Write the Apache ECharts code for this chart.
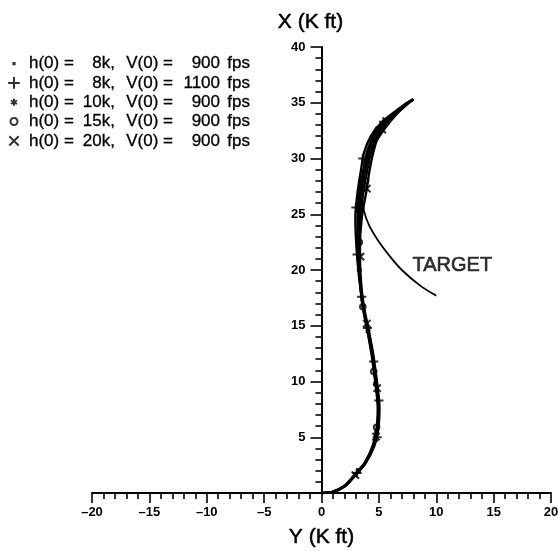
<!DOCTYPE html>
<html>
<head>
<meta charset="utf-8">
<script src="https://cdn.jsdelivr.net/npm/echarts@6/dist/echarts.min.js"></script>
<style>html,body{margin:0;padding:0;background:#fff}#c{width:558px;height:551px}</style>
</head>
<body>
<div id="c"></div>
<script>
// ---- data ----
const seriesNames = ['h(0) =  8k, V(0) =  900 fps','h(0) =  8k, V(0) = 1100 fps','h(0) = 10k, V(0) =  900 fps','h(0) = 15k, V(0) =  900 fps','h(0) = 20k, V(0) =  900 fps'];
const legendH0 = ['8k,','8k,','10k,','15k,','20k,'];
const legendV0 = ['900','1100','900','900','900'];
const xTicks = [-20,-15,-10,-5,0,5,10,15,20];
const yTicks = [5,10,15,20,25,30,35,40];

// trajectory: downrange X (K ft) levels shared by all runs, cross-range Y (K ft) per run
const pathX = [0, 0.1, 0.6, 1.6, 2.7, 4.2, 5.8, 7.6, 9.4, 11, 12.5, 14.6, 17, 19.6, 22, 24.6, 27, 29, 30.5, 32, 33.2, 34.2, 34.85, 35.3];
const pathY1 = [0, 1.0, 2.0, 2.9, 3.8, 4.5, 4.85, 4.95, 4.8, 4.6, 4.4, 4.05, 3.6, 3.3, 3.15, 3.15, 3.3, 3.65, 3.95, 4.5, 5.35, 6.45, 7.3, 8.0];
const pathY2 = [0, 1.0, 2.05, 2.95, 3.85, 4.6, 4.95, 5.05, 4.9, 4.7, 4.5, 4.1, 3.6, 3.25, 3.05, 2.95, 3.15, 3.45, 3.7, 4.3, 5.2, 6.4, 7.25, 8.0];
const pathY3 = [0, 0.95, 1.95, 2.85, 3.75, 4.45, 4.8, 4.9, 4.75, 4.55, 4.35, 4.0, 3.55, 3.3, 3.2, 3.25, 3.45, 3.8, 4.1, 4.6, 5.45, 6.5, 7.3, 8.0];
const pathY4 = [0, 0.95, 1.95, 2.9, 3.8, 4.5, 4.85, 4.95, 4.8, 4.6, 4.4, 4.0, 3.55, 3.35, 3.25, 3.35, 3.65, 4.0, 4.3, 4.8, 5.6, 6.6, 7.35, 8.0];
const pathY5 = [0, 1.0, 2.0, 2.95, 3.85, 4.55, 4.9, 5.0, 4.85, 4.65, 4.45, 4.1, 3.65, 3.4, 3.35, 3.5, 3.9, 4.2, 4.5, 4.95, 5.7, 6.7, 7.45, 8.0];

// marker positions along each run
const mark1X = [2.3, 6.3, 10.6, 15.6, 21.0, 26.5, 31.6];
const mark1Y = [3.45, 4.9, 4.65, 3.85, 3.2, 3.3, 4.45];
const mark2X = [1.8, 5.0, 8.3, 11.8, 14.8, 17.6, 21.4, 25.6, 30.0, 33.3];
const mark2Y = [3.1, 4.85, 5.0, 4.55, 4.0, 3.5, 3.1, 3.0, 3.6, 5.4];
const mark3X = [2.0, 5.5, 9.8, 14.5, 20.0, 25.5, 31.0];
const mark3Y = [3.2, 4.8, 4.7, 4.05, 3.3, 3.3, 4.35];
const mark4X = [5.9, 10.9, 16.7, 22.5, 28.0, 32.6];
const mark4Y = [4.8, 4.55, 3.6, 3.3, 3.85, 4.95];
const mark5X = [1.6, 5.05, 9.4, 15.2, 21.2, 27.3, 32.6];
const mark5Y = [2.95, 4.75, 4.85, 3.95, 3.4, 3.95, 5.3];

// target path
const targetX = [17.7, 18.6, 20.0, 21.3, 22.7, 24.0, 25.3, 26.5, 28.0, 29.5, 31.0, 32.5, 34.0, 35.3];
const targetY = [10.0, 8.6, 7.0, 5.9, 4.9, 4.15, 3.7, 3.55, 3.65, 3.95, 4.5, 5.4, 6.6, 8.0];
const targetLabelPos = [11.4, 20.4];

// ---- chart ----
const FONT = "'Liberation Sans', Arial, Helvetica, sans-serif";
const symbols = [
  'path://M0,0M12,12M4.6,4.6h2.8v2.8h-2.8z',
  'path://M0,0M12,12M1,6H11M6,1V11',
  'path://M0,0M12,12M6,3V9M3.4,4.5L8.6,7.5M8.6,4.5L3.4,7.5',
  'path://M0,0M12,12M9,6A3,3 0 1,1 3,6A3,3 0 1,1 9,6Z',
  'path://M0,0M12,12M2,2L10,10M10,2L2,10'
];
const markStyles = [
  {color:'#000', borderWidth:0},
  {color:'transparent', borderColor:'#000', borderWidth:2},
  {color:'transparent', borderColor:'#000', borderWidth:2},
  {color:'transparent', borderColor:'#000', borderWidth:2},
  {color:'transparent', borderColor:'#000', borderWidth:2}
];
const paths = [pathY1, pathY2, pathY3, pathY4, pathY5];
const marksX = [mark1X, mark2X, mark3X, mark4X, mark5X];
const marksY = [mark1Y, mark2Y, mark3Y, mark4Y, mark5Y];

const series = [];
seriesNames.forEach((n, i) => {
  series.push({
    name: n, type: 'scatter', symbol: symbols[i], symbolSize: 11,
    itemStyle: markStyles[i], z: 5, silent: true,
    data: marksX[i].map((x, k) => [marksY[i][k], x])
  });
});
paths.forEach((p, i) => {
  series.push({
    name: 'run' + (i + 1), type: 'line', smooth: 0.35, symbol: 'none',
    lineStyle: {color: '#000', width: 2.4}, z: 3, silent: true,
    data: pathX.map((x, k) => [p[k], x])
  });
});
series.push({
  name: 'target', type: 'line', smooth: 0.35, symbol: 'none',
  lineStyle: {color: '#000', width: 1.8}, z: 2, silent: true,
  data: targetX.map((x, k) => [targetY[k], x])
});
series.push({
  name: 'targetLabel', type: 'scatter', symbolSize: 0, silent: true,
  label: {show: true, position: 'inside', formatter: 'TARGET', color: '#000',
    fontFamily: FONT, fontSize: 20, textBorderColor: '#000', textBorderWidth: 0.6},
  data: [targetLabelPos]
});

const nameStyle = {color: '#000', fontFamily: FONT, fontSize: 21, textBorderColor: '#000', textBorderWidth: 0.5};
const richBase = {fontFamily: FONT, fontSize: 17, lineHeight: 17, color: '#000', textBorderColor: '#000', textBorderWidth: 0.3};

const chart = echarts.init(document.getElementById('c'), null, {renderer: 'canvas'});
const option = {
  animation: false,
  backgroundColor: '#fff',
  grid: {left: 92, right: 7, top: 47, bottom: 58, containLabel: false, outerBoundsMode: 'none'},
  legend: {
    orient: 'vertical', left: 6, top: 55, padding: 0, itemWidth: 14, itemHeight: 14, itemGap: 2,
    selectedMode: false,
    data: seriesNames.map((n, i) => ({name: n, icon: symbols[i], itemStyle: markStyles[i]})),
    formatter: function (name) {
      const i = seriesNames.indexOf(name);
      return '{a|h(0) =}{b|' + legendH0[i] + '}{c|V(0) =}{d|' + legendV0[i] + '}{e|fps}';
    },
    textStyle: {
      color: '#000', fontFamily: FONT, fontSize: 17, lineHeight: 17,
      rich: {
        a: Object.assign({width: 57, padding: [0,0,0,3]}, richBase),
        b: Object.assign({width: 29, align: 'right'}, richBase),
        c: Object.assign({width: 58, align: 'right'}, richBase),
        d: Object.assign({width: 47, align: 'right'}, richBase),
        e: Object.assign({width: 30, align: 'right'}, richBase)
      }
    }
  },
  xAxis: {
    type: 'value', min: -20, max: 20, interval: 5,
    name: 'Y (K ft)', nameLocation: 'middle', nameGap: 34,
    nameTextStyle: nameStyle,
    axisLine: {show: true, onZero: true, lineStyle: {color: '#000', width: 2}},
    axisTick: {show: true, inside: false, length: 10, lineStyle: {color: '#000', width: 1.6}},
    minorTick: {show: true, splitNumber: 5, length: 6, lineStyle: {color: '#000', width: 1.6}},
    splitLine: {show: false}, minorSplitLine: {show: false},
    axisLabel: {color: '#000', fontFamily: FONT, fontSize: 13, fontWeight: 'bold', margin: 13,
      formatter: v => (v < 0 ? '\u2013' + Math.abs(v) : String(v))}
  },
  yAxis: {
    type: 'value', min: 0, max: 40, interval: 5,
    name: 'X (K ft)', nameLocation: 'end', nameGap: 14,
    nameTextStyle: Object.assign({padding: [0, 22, 0, 0]}, nameStyle),
    axisLine: {show: true, onZero: false, lineStyle: {color: '#000', width: 2}},
    axisTick: {show: true, inside: false, length: 11, lineStyle: {color: '#000', width: 1.6}},
    minorTick: {show: true, splitNumber: 5, length: 6, lineStyle: {color: '#000', width: 1.6}},
    splitLine: {show: false}, minorSplitLine: {show: false},
    axisLabel: {color: '#000', fontFamily: FONT, fontSize: 13, fontWeight: 'bold', margin: 16,
      formatter: v => (yTicks.indexOf(v) >= 0 ? String(v) : '')}
  },
  series: series
};
chart.setOption(option);
// place the vertical axis at Y = 0 using the library's own scale
const zeroPx = chart.convertToPixel({xAxisIndex: 0}, 0);
const leftPx = chart.convertToPixel({xAxisIndex: 0}, -20);
chart.setOption({yAxis: {offset: -(zeroPx - leftPx)}});
</script>
</body>
</html>
